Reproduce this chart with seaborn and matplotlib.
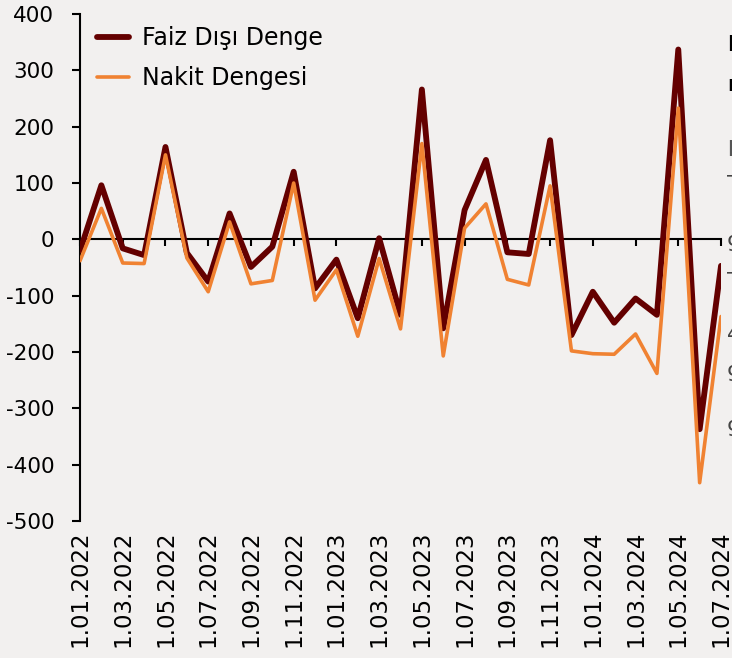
import matplotlib
matplotlib.use("Agg")
import matplotlib.pyplot as plt
import seaborn as sns
import pandas as pd
import numpy as np

dates = [f"1.{m:02d}.{y}" for y in (2022, 2023, 2024) for m in range(1, 13)][:31]

faiz_disi_denge = [-20, 96, -16, -28, 164, -24, -75, 46, -49, -13, 120, -87, -36, -140, 2, -134,
                   266, -158, 52, 141, -23, -26, 176, -170, -93, -148, -105, -134, 337, -337, -47]
nakit_dengesi = [-38, 55, -42, -43, 150, -33, -93, 31, -79, -73, 100, -108, -54, -172, -34, -159,
                 170, -207, 20, 63, -71, -81, 95, -198, -203, -204, -168, -238, 233, -432, -137]

series_names = ["Faiz Dışı Denge", "Nakit Dengesi"]
colors = {"Faiz Dışı Denge": "#640000", "Nakit Dengesi": "#F08232"}
yticks = list(range(-500, 401, 100))

df = pd.DataFrame({
    "idx": list(range(len(dates))) * 2,
    "value": faiz_disi_denge + nakit_dengesi,
    "series": [series_names[0]] * len(dates) + [series_names[1]] * len(dates),
})

sns.set_theme(style="white")
plt.rcParams["font.family"] = ["DejaVu Sans"]
bg = "#F2F0EF"

fig = plt.figure(figsize=(7.32, 6.58), dpi=100, facecolor=bg)
ax = fig.add_axes([0.1093, 0.2082, 0.985 - 0.1093, 0.9787 - 0.2082])
ax.set_facecolor(bg)

sns.lineplot(data=df, x="idx", y="value", hue="series", palette=colors,
             size="series", sizes={"Faiz Dışı Denge": 4.2, "Nakit Dengesi": 2.6},
             ax=ax, zorder=3, legend=True)

ax.set_xlim(0, len(dates) - 1)
ax.set_ylim(-500, 400)
ax.set_yticks(yticks)
ax.set_yticklabels([str(v) for v in yticks], fontsize=15.5, color="black")
ax.set_xlabel("")
ax.set_ylabel("")

for s in ["top", "right"]:
    ax.spines[s].set_visible(False)
ax.spines["left"].set_color("black")
ax.spines["left"].set_linewidth(1.5)
ax.spines["bottom"].set_position(("data", 0))
ax.spines["bottom"].set_color("black")
ax.spines["bottom"].set_linewidth(1.5)

xt = list(range(0, len(dates), 2))
ax.set_xticks(xt)
ax.tick_params(axis="x", direction="out", length=5, width=1.5, color="black", labelbottom=False, bottom=True)
ax.tick_params(axis="y", direction="out", length=5.5, width=1.5, color="black", left=True, pad=13)

sec = ax.secondary_xaxis("bottom")
sec.set_xticks(xt)
sec.set_xticklabels([dates[i] for i in xt], rotation=90, fontsize=16.5, color="black")
sec.tick_params(length=0, pad=7)
sec.spines["bottom"].set_visible(False)

handles, labels = ax.get_legend_handles_labels()
leg = ax.legend(handles, labels, loc="upper left", bbox_to_anchor=(0.008, 1.0), frameon=False,
                fontsize=17, handlelength=1.35, handletextpad=0.55, labelspacing=0.7, borderaxespad=0.1)
for t in leg.get_texts():
    t.set_color("black")

# clipped text from neighbouring panel at the right edge
side = [(45, "B", "bold", "black"), (85, "m", "bold", "black"), (150, "B", "bold", "#555555"),
        (185, "T", "normal", "#444444"), (245, "9", "normal", "#444444"), (282, "T", "normal", "#444444"),
        (335, "4", "normal", "#444444"), (375, "9", "normal", "#444444"), (430, "9", "normal", "#444444")]
for ypx, t, w, c in side:
    fig.text(727 / 732, 1 - ypx / 658, t, fontsize=15, fontweight=w, color=c, va="center", ha="left")

fig.savefig("out.png", dpi=100, facecolor=bg)
